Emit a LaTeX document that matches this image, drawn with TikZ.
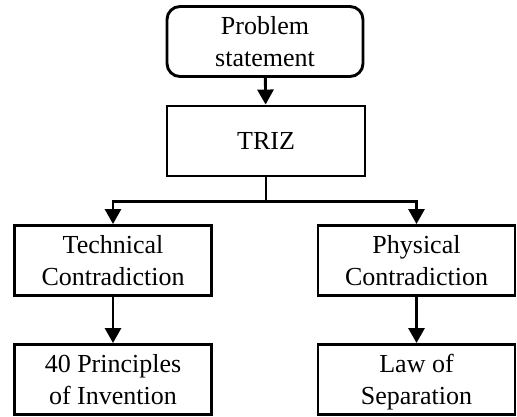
\documentclass[tikz,border=0pt]{standalone}
\usepackage{fontspec}
\setmainfont{Liberation Serif}
\usetikzlibrary{arrows.meta}
\begin{document}
\begin{tikzpicture}[x=1pt,y=-1pt,
  box/.style={draw=black,line width=2.9pt,minimum width=197pt,minimum height=70pt,inner sep=0pt,align=center,font=\fontsize{26}{31.5}\selectfont},
  rbox/.style={box,rounded corners=13pt},
  arr/.style={line width=2.9pt,-{Triangle[width=16pt,length=15pt]}},
  conn/.style={line width=2.9pt}]
\useasboundingbox (0,0) rectangle (517,417);
\node[rbox,minimum width=196pt] (ps) at (265,41.5) {Problem\\statement};
\node[box,minimum width=198pt] (triz) at (266,141) {TRIZ};
\node[box] (tc) at (113,260.5) {Technical\\Contradiction};
\node[box] (pc) at (416.5,260.5) {Physical\\Contradiction};
\node[box] (pr) at (113,379.5) {40 Principles\\of Invention};
\node[box] (ls) at (416.5,379.5) {Law of\\\smash{Separation}};
\coordinate (j) at ([yshift=-24.5pt]triz.south);
\draw[arr] (ps) -- (triz);
\draw[conn] (triz.south) -- (j);
\draw[arr] (j) -| (tc.north);
\draw[arr] (j) -| (pc.north);
\draw[arr] (tc) -- (pr);
\draw[arr] (pc) -- (ls);
\end{tikzpicture}
\end{document}
